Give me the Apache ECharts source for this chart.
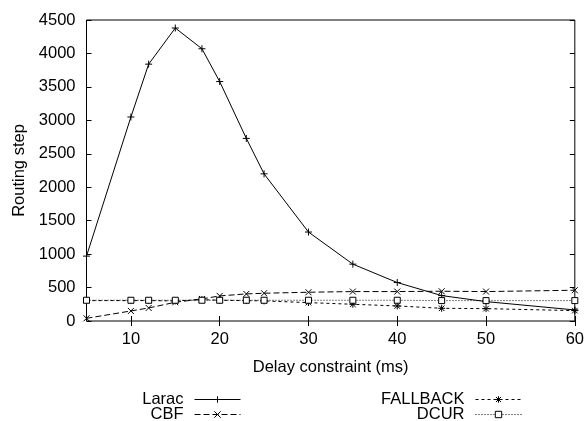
<!DOCTYPE html>
<html>
<head>
<meta charset="utf-8">
<script src="https://cdn.jsdelivr.net/npm/echarts@6/dist/echarts.min.js"></script>
<style>
  html, body { margin: 0; padding: 0; background: #fff; }
  #chart { width: 587px; height: 421px; }
</style>
</head>
<body>
<div id="chart"></div>
<script>
// delay constraint (ms)
var delays = [5, 10, 12, 15, 18, 20, 23, 25, 30, 35, 40, 45, 50, 60];
var laracSteps = [970, 3050, 3840, 4380, 4070, 3580, 2730, 2200, 1330, 850, 575, 380, 290, 165];
var cbfSteps = [40, 150, 195, 280, 330, 375, 405, 415, 430, 440, 440, 445, 440, 460];
var fallbackSteps = [305, 305, 305, 300, 320, 310, 305, 300, 275, 250, 225, 190, 185, 155];
var dcurSteps = [310, 310, 310, 310, 310, 310, 310, 310, 310, 310, 310, 305, 305, 305];
var xTicks = [10, 20, 30, 40, 50, 60];

var FONT = 'Liberation Sans';
var FSIZE = 16.5;

function pairs(ys) {
	var out = [];
	for (var i = 0; i < delays.length; i++) {
		out.push([delays[i], ys[i]]);
	}
	return out;
}

var plusPath = 'path://M5 0L5 10M0 5L10 5';
var crossPath = 'path://M0 0L10 10M10 0L0 10';
var starPath = 'path://M5 0L5 10M0 5L10 5M1 1L9 9M9 1L1 9';

function makeSeries(name, ys, symbol, size, dash, fill) {
	return {
		type: 'line',
		name: name,
		data: pairs(ys),
		symbol: symbol,
		symbolSize: size,
		showAllSymbol: true,
		lineStyle: { color: '#000', width: 1, type: dash },
		itemStyle: { color: fill, borderColor: '#000', borderWidth: 1 },
		emphasis: { disabled: true },
		animation: false
	};
}

function makeLegend(name, right, top) {
	return {
		data: [name],
		right: right,
		top: top,
		padding: 0,
		align: 'right',
		itemWidth: 46,
		itemHeight: 8,
		selectedMode: false,
		lineStyle: { width: 1 },
		itemStyle: { borderWidth: 1 },
		textStyle: { color: '#000', fontFamily: FONT, fontSize: FSIZE, padding: [0, 6, 0, 0] }
	};
}

var myChart = echarts.init(document.getElementById('chart'));

var option = {
	backgroundColor: '#fff',
	animation: false,
	grid: {
		left: 86.5,
		right: 10,
		top: 20,
		bottom: 100,
		show: true,
		borderColor: '#000',
		borderWidth: 1
	},
	legend: [
		makeLegend('Larac', 346, 391),
		makeLegend('CBF', 346, 406),
		makeLegend('FALLBACK', 65, 391),
		makeLegend('DCUR', 65, 406)
	],
	xAxis: [{
		type: 'value',
		min: 5,
		max: 60,
		name: 'Delay constraint (ms)',
		nameLocation: 'middle',
		nameGap: 38,
		nameTextStyle: { color: '#000', fontFamily: FONT, fontSize: FSIZE },
		axisLine: { show: false },
		axisTick: { inside: true, length: 5, customValues: xTicks, lineStyle: { color: '#000' } },
		axisLabel: { customValues: xTicks, margin: 10, color: '#000', fontFamily: FONT, fontSize: FSIZE },
		splitLine: { show: false }
	}, {
		type: 'value',
		position: 'top',
		min: 5,
		max: 60,
		axisLine: { show: false },
		axisTick: { inside: true, length: 5, customValues: xTicks, lineStyle: { color: '#000' } },
		axisLabel: { show: false },
		splitLine: { show: false }
	}],
	yAxis: [{
		type: 'value',
		min: 0,
		max: 4500,
		interval: 500,
		name: 'Routing step',
		nameLocation: 'middle',
		nameGap: 58,
		nameTextStyle: { color: '#000', fontFamily: FONT, fontSize: FSIZE },
		axisLine: { show: false },
		axisTick: { inside: true, length: 5, lineStyle: { color: '#000' } },
		axisLabel: {
			margin: 11, color: '#000', fontFamily: FONT, fontSize: FSIZE,
			formatter: function (v) { return String(v); }
		},
		splitLine: { show: false }
	}, {
		type: 'value',
		position: 'right',
		min: 0,
		max: 4500,
		interval: 500,
		axisLine: { show: false },
		axisTick: { inside: true, length: 5, lineStyle: { color: '#000' } },
		axisLabel: { show: false },
		splitLine: { show: false }
	}],
	series: [
		makeSeries('Larac', laracSteps, plusPath, 7, 'solid', '#000'),
		makeSeries('CBF', cbfSteps, crossPath, 6, [6, 3], '#000'),
		makeSeries('FALLBACK', fallbackSteps, starPath, 7, [3, 3], '#000'),
		makeSeries('DCUR', dcurSteps, 'rect', 6, [1, 2], '#fff')
	]
};

myChart.setOption(option);
</script>
</body>
</html>
